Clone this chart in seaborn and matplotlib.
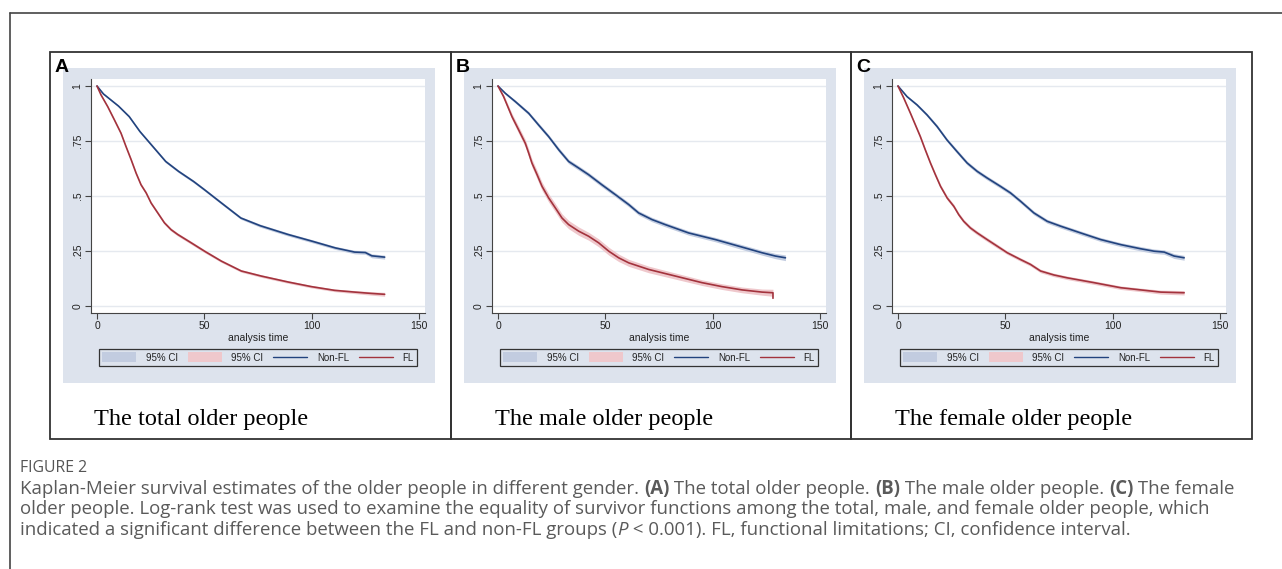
import matplotlib
matplotlib.use("Agg")
import matplotlib.pyplot as plt
from matplotlib import font_manager
from matplotlib.patches import Rectangle, Patch
from matplotlib.lines import Line2D
import seaborn as sns

sns.set_theme(style="white")
plt.rcParams["font.family"] = ["Liberation Sans", "DejaVu Sans"]

# Kaplan-Meier estimates (time, survival, CI half width).
# (A) total older people
total_nonfl_t = [0, 3, 10, 15, 20, 26, 32, 38, 45, 50, 58, 67, 76, 89, 100, 111, 120, 125, 128, 134]
total_nonfl_s = [1.0, 0.964, 0.909, 0.861, 0.793, 0.725, 0.657, 0.612, 0.566, 0.529, 0.468, 0.400,
                 0.365, 0.325, 0.295, 0.264, 0.245, 0.243, 0.228, 0.222]
total_nonfl_ci = [0, 0.003, 0.004, 0.005, 0.005, 0.006, 0.006, 0.006, 0.006, 0.006, 0.006, 0.006,
                  0.007, 0.007, 0.007, 0.007, 0.008, 0.008, 0.009, 0.009]
total_fl_t = [0, 1.9, 5.0, 8.1, 11.2, 13.5, 15.9, 18.2, 20.5, 22.9, 25.2, 28.3, 31.4, 34.5, 37.6,
              43.9, 50.1, 57.9, 67.2, 76.5, 89, 99.8, 110.7, 120.1, 127.8, 134]
total_fl_s = [1.0, 0.959, 0.906, 0.846, 0.785, 0.725, 0.665, 0.604, 0.551, 0.514, 0.468, 0.423,
              0.378, 0.347, 0.325, 0.287, 0.249, 0.204, 0.159, 0.136, 0.109, 0.088, 0.071, 0.063,
              0.057, 0.053]
total_fl_ci = [0, 0.004, 0.005, 0.006, 0.006, 0.006, 0.007, 0.007, 0.007, 0.007, 0.007, 0.007,
               0.007, 0.007, 0.007, 0.007, 0.007, 0.006, 0.006, 0.006, 0.006, 0.006, 0.006, 0.007,
               0.008, 0.009]

# (B) male older people
male_nonfl_t = [0, 3.4, 8.1, 14.3, 18.9, 23.6, 28.3, 32.9, 37.6, 42.2, 48.4, 54.7, 60.9, 65.5,
                71.7, 77.9, 88.8, 101.2, 112.1, 123.0, 129.2, 133.9]
male_nonfl_s = [1.0, 0.967, 0.929, 0.876, 0.823, 0.770, 0.710, 0.657, 0.627, 0.597, 0.551, 0.506,
                0.461, 0.423, 0.393, 0.370, 0.332, 0.302, 0.272, 0.242, 0.227, 0.219]
male_nonfl_ci = [0, 0.005, 0.007, 0.008, 0.009, 0.009, 0.010, 0.010, 0.010, 0.010, 0.010, 0.010,
                 0.010, 0.010, 0.010, 0.010, 0.010, 0.010, 0.011, 0.011, 0.012, 0.013]
male_fl_t = [0, 2.6, 6.5, 9.6, 12.7, 14.3, 15.8, 18.2, 20.5, 23.6, 26.7, 29.8, 32.9, 37.6, 42.2,
             46.9, 51.6, 56.2, 60.9, 70.2, 82.6, 95.0, 104.3, 113.7, 123.0, 128.1, 128.1]
male_fl_s = [1.0, 0.952, 0.861, 0.801, 0.740, 0.695, 0.650, 0.597, 0.544, 0.491, 0.446, 0.400,
             0.370, 0.340, 0.317, 0.287, 0.249, 0.219, 0.196, 0.166, 0.136, 0.106, 0.088, 0.073,
             0.063, 0.060, 0.035]
male_fl_ci = [0, 0.010, 0.014, 0.016, 0.017, 0.018, 0.018, 0.019, 0.019, 0.019, 0.019, 0.019,
              0.019, 0.019, 0.018, 0.018, 0.018, 0.017, 0.016, 0.015, 0.014, 0.013, 0.013, 0.013,
              0.014, 0.016, 0.022]

# (C) female older people
female_nonfl_t = [0, 4.2, 8.9, 13.5, 18.2, 22.8, 27.5, 32.2, 36.9, 41.5, 47.7, 52.4, 57.1, 63.3,
                  69.5, 75.7, 85.1, 94.4, 103.7, 113.1, 119.3, 124.0, 128.6, 133.3]
female_nonfl_s = [1.0, 0.952, 0.914, 0.869, 0.816, 0.755, 0.702, 0.650, 0.612, 0.582, 0.544, 0.514,
                  0.476, 0.423, 0.385, 0.363, 0.332, 0.302, 0.279, 0.260, 0.249, 0.245, 0.227, 0.219]
female_nonfl_ci = [0, 0.004, 0.006, 0.007, 0.008, 0.008, 0.009, 0.009, 0.009, 0.009, 0.009, 0.009,
                   0.009, 0.009, 0.009, 0.009, 0.009, 0.009, 0.009, 0.010, 0.010, 0.010, 0.011, 0.011]
female_fl_t = [0, 2.6, 5.8, 8.1, 10.4, 12.7, 15.1, 17.4, 19.8, 22.9, 26.0, 28.3, 30.6, 33.7, 36.9,
               41.5, 46.2, 50.9, 57.1, 61.7, 66.4, 72.6, 78.8, 91.3, 103.7, 113.1, 122.4, 133.3]
female_fl_s = [1.0, 0.947, 0.876, 0.823, 0.770, 0.710, 0.650, 0.597, 0.544, 0.491, 0.453, 0.415,
               0.385, 0.355, 0.332, 0.302, 0.272, 0.242, 0.211, 0.189, 0.159, 0.141, 0.128, 0.106,
               0.083, 0.073, 0.063, 0.060]
female_fl_ci = [0, 0.005, 0.006, 0.007, 0.008, 0.008, 0.008, 0.009, 0.009, 0.009, 0.009, 0.009,
                0.009, 0.009, 0.009, 0.009, 0.009, 0.008, 0.008, 0.008, 0.008, 0.008, 0.008, 0.008,
                0.008, 0.008, 0.009, 0.010]

panel_letters = ["A", "B", "C"]
panel_titles = ["The total older people", "The male older people", "The female older people"]
legend_labels = ["95% CI", "95% CI", "Non-FL", "FL"]
y_ticks = [0, 0.25, 0.5, 0.75, 1]
y_tick_labels = ["0", ".25", ".5", ".75", "1"]
x_ticks = [0, 50, 100, 150]

caption_head = "FIGURE 2"
caption_lines = [
    [("Kaplan-Meier survival estimates of the older people in different gender. ", "normal", "normal"),
     ("(A)", "bold", "normal"), (" The total older people. ", "normal", "normal"),
     ("(B)", "bold", "normal"), (" The male older people. ", "normal", "normal"),
     ("(C)", "bold", "normal"), (" The female", "normal", "normal")],
    [("older people. Log-rank test was used to examine the equality of survivor functions among "
      "the total, male, and female older people, which", "normal", "normal")],
    [("indicated a significant difference between the FL and non-FL groups (", "normal", "normal"),
     ("P", "normal", "italic"),
     (" < 0.001). FL, functional limitations; CI, confidence interval.", "normal", "normal")],
]

panels = [
    [(total_nonfl_t, total_nonfl_s, total_nonfl_ci), (total_fl_t, total_fl_s, total_fl_ci)],
    [(male_nonfl_t, male_nonfl_s, male_nonfl_ci), (male_fl_t, male_fl_s, male_fl_ci)],
    [(female_nonfl_t, female_nonfl_s, female_nonfl_ci), (female_fl_t, female_fl_s, female_fl_ci)],
]

# colours (Stata s2color-like)
bg_col = "#dde3ed"
grid_col = "#e5e9ef"
line_cols = ["#22437e", "#a3333d"]
fill_cols = ["#c2cce0", "#efc8cc"]
frame_col = "#333333"
cap_col = "#5a5a5a"

W, H = 1282, 569
fig = plt.figure(figsize=(W / 100, H / 100), dpi=100)
fig.patch.set_facecolor("white")


def frac(x0, y0, x1, y1):
    return [x0 / W, 1 - y1 / H, (x1 - x0) / W, (y1 - y0) / H]


# outer frame (top and left)
fig.add_artist(Line2D([10 / W, 1.0], [1 - 13 / H, 1 - 13 / H], transform=fig.transFigure,
                      color="#444444", lw=1.2))
fig.add_artist(Line2D([10 / W, 10 / W], [1 - 13 / H, 0.0], transform=fig.transFigure,
                      color="#444444", lw=1.2))

panel_left = [50, 451, 851]
panel_right = [451, 851, 1252]

for i, L in enumerate(panel_left):
    # panel box
    x0, y0, w, h = frac(L, 52, panel_right[i], 439)
    fig.add_artist(Rectangle((x0, y0), w, h, transform=fig.transFigure, fill=False,
                             edgecolor=frame_col, lw=1.3, zorder=5))
    # graph region
    x0, y0, w, h = frac(L + 13, 68, L + 385, 383)
    fig.add_artist(Rectangle((x0, y0), w, h, transform=fig.transFigure, facecolor=bg_col,
                             edgecolor="none", zorder=-1))

    ax = fig.add_axes(frac(L + 41, 79, L + 375, 313))
    ax.set_facecolor("white")
    for k, (t, s, ci) in enumerate(panels[i]):
        lo = [a - b for a, b in zip(s, ci)]
        hi = [a + b for a, b in zip(s, ci)]
        ax.fill_between(t, lo, hi, color=fill_cols[k], lw=0, zorder=2)
        sns.lineplot(x=t, y=s, ax=ax, color=line_cols[k], lw=1.2, sort=False,
                     estimator=None, zorder=3)

    ax.set_xlim(-2.8, 152.8)
    ax.set_ylim(-0.032, 1.032)
    ax.set_xticks(x_ticks)
    ax.set_xticklabels([str(v) for v in x_ticks])
    ax.set_yticks(y_ticks)
    ax.set_yticklabels(y_tick_labels, rotation=90, va="center")
    ax.yaxis.grid(True, color=grid_col, lw=1.0)
    ax.xaxis.grid(False)
    ax.set_axisbelow(True)
    for side in ["top", "right"]:
        ax.spines[side].set_visible(False)
    for side in ["left", "bottom"]:
        ax.spines[side].set_color("#444444")
        ax.spines[side].set_linewidth(0.8)
    ax.tick_params(axis="both", which="both", bottom=True, left=True, length=4, width=0.8,
                   color="#444444", labelsize=7.5, labelcolor="#222222", pad=2, direction="out")
    ax.set_xlabel("analysis time", fontsize=7.5, color="#222222", labelpad=1)
    ax.set_ylabel("")

    handles = [Patch(facecolor=fill_cols[0], edgecolor="none"),
               Patch(facecolor=fill_cols[1], edgecolor="none"),
               Line2D([], [], color=line_cols[0], lw=1.0),
               Line2D([], [], color=line_cols[1], lw=1.0)]
    leg = ax.legend(handles, legend_labels, ncol=4, loc="center",
                    bbox_to_anchor=((L + 208) / W, 1 - 357.5 / H), bbox_transform=fig.transFigure,
                    fontsize=7, frameon=True, fancybox=False, edgecolor="#333333",
                    facecolor=bg_col, framealpha=1, handlelength=3.5, handleheight=1.2,
                    handletextpad=1.0, columnspacing=1.0, borderpad=0.35, borderaxespad=0)
    leg.get_frame().set_linewidth(0.9)
    for txt in leg.get_texts():
        txt.set_color("#222222")

    fig.text((L + 5) / W, 1 - 72 / H, panel_letters[i], fontsize=14, fontweight="bold",
             color="black", ha="left", va="baseline", family=["Liberation Sans", "DejaVu Sans"])
    fig.text((L + 44) / W, 1 - 425 / H, panel_titles[i], fontsize=17.5, color="black",
             ha="left", va="baseline", family=["Liberation Serif", "DejaVu Serif"])

# caption
names = {f.name for f in font_manager.fontManager.ttflist}
cap_font = "Open Sans" if "Open Sans" in names else "DejaVu Sans"
renderer = fig.canvas.get_renderer()


def run_width(runs, size):
    total = 0
    for s, wt, st in runs:
        t = fig.text(0, 0, s, fontsize=size, fontweight=wt, fontstyle=st, family=cap_font)
        total += t.get_window_extent(renderer).width
        t.remove()
    return total


cap_size = 10 * 1212 / run_width(caption_lines[0], 10)

fig.text(20 / W, 1 - 468 / H, caption_head, fontsize=cap_size * 0.85, color="#555555",
         ha="left", va="center", family=cap_font)
for y, runs in zip([489, 509.5, 530], caption_lines):
    x = 20
    for s, wt, st in runs:
        t = fig.text(x / W, 1 - y / H, s, fontsize=cap_size, fontweight=wt, fontstyle=st,
                     color=cap_col, ha="left", va="center", family=cap_font)
        x += t.get_window_extent(renderer).width

fig.savefig("out.png", dpi=100)
